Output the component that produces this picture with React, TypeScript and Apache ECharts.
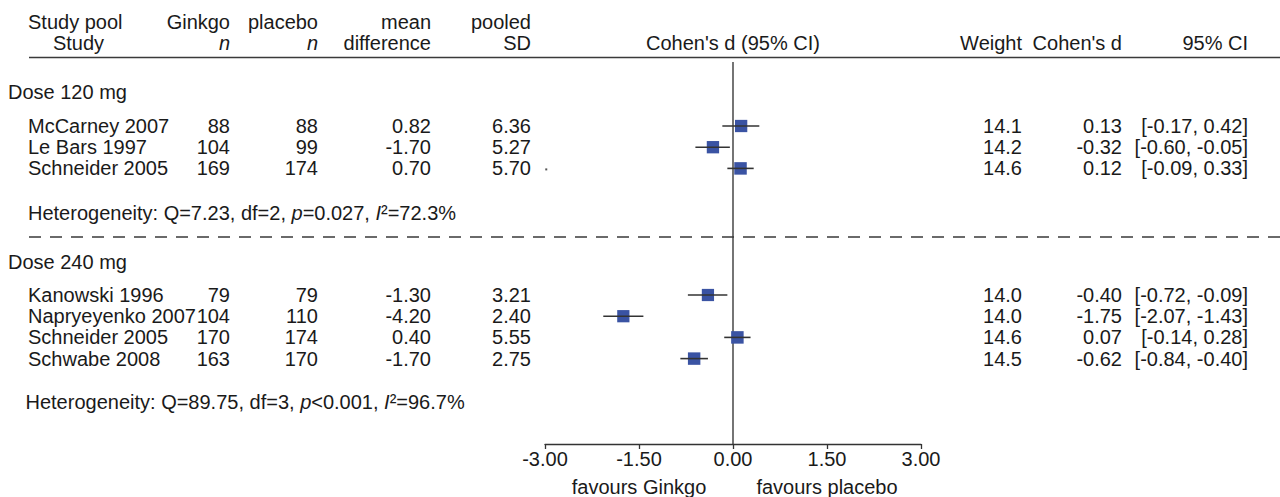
import React, { useEffect, useRef } from "react";
import * as echarts from "echarts";

// ---------------- data ----------------
const studies = ["McCarney 2007", "Le Bars 1997", "Schneider 2005", "Kanowski 1996", "Napryeyenko 2007", "Schneider 2005", "Schwabe 2008"];
const doseGroup = [120, 120, 120, 240, 240, 240, 240];
const ginkgoN = [88, 104, 169, 79, 104, 170, 163];
const placeboN = [88, 99, 174, 79, 110, 174, 170];
const meanDiff = [0.82, -1.7, 0.7, -1.3, -4.2, 0.4, -1.7];
const pooledSD = [6.36, 5.27, 5.7, 3.21, 2.4, 5.55, 2.75];
const weights = [14.1, 14.2, 14.6, 14.0, 14.0, 14.6, 14.5];
const cohenD = [0.13, -0.32, 0.12, -0.4, -1.75, 0.07, -0.62];
const ciLow = [-0.17, -0.6, -0.09, -0.72, -2.07, -0.14, -0.84];
const ciHigh = [0.42, -0.05, 0.33, -0.09, -1.43, 0.28, -0.4];

const groups = [120, 240];
const groupLabels = ["Dose 120 mg", "Dose 240 mg"];
const hetStats = [
  { Q: "7.23", df: "2", p: "=0.027", I2: "72.3%" },
  { Q: "89.75", df: "3", p: "<0.001", I2: "96.7%" },
];

const xTicks = [-3, -1.5, 0, 1.5, 3];
const favourLabels = ["favours Ginkgo", "favours placebo"];
const favourAt = [-1.5, 1.5];

// stray speck in the original figure (forest x value, study index)
const speck = { x: -2.98, study: 2 };

// ---------------- layout ----------------
const FONT = '"Liberation Sans", Arial, Helvetica, sans-serif';
const FS = 20;
const TXT = "#1a1a1a";
const LINE = "#3a3a3a";
const SQUARE = "#3a53a3";

const PLOT_H = 444; // axis line position (px units on the hidden y axis)

// vertical layout (px)
const L_H1 = 21.5;
const L_H2 = 43;
const L_RULE = 57.5;
const groupHeaderLine = [92, 262];
const groupFirstRow = [126, 295];
const ROW_STEP = 21.2;
const hetLine = [213, 401.5];
const hetIndent = [0, -2.5];
const L_DASH = 237;
const L_ZERO_TOP = 62;
const L_FAV = 487;

// column x (px) in table grid
const X_NAME = 28;
const X_SEC = 8;
const X_STUDY_C = 78.5;
const X_GN = 230;
const X_PN = 318;
const X_MD = 431;
const X_SD = 531;
const X_W = 1022;
const X_D = 1122;
const X_CI = 1248;
const X_FOREST_C = 733;
const X_RULE = 29;

type TItem = { x: number; y: number; text: string; align: string; italic?: boolean; rich?: boolean };

function buildRows(): number[] {
  const rows: number[] = [];
  groups.forEach((g, gi) => {
    let k = 0;
    doseGroup.forEach((d, i) => {
      if (d === g) {
        rows[i] = groupFirstRow[gi] + k * ROW_STEP;
        k++;
      }
    });
  });
  return rows;
}

export default function App() {
  const ref = useRef<HTMLDivElement>(null);

  useEffect(() => {
    document.body.style.margin = "0";
    if (!ref.current) return;
    const chart = echarts.init(ref.current, undefined, { renderer: "svg" });
    const rows = buildRows();

    const texts: TItem[] = [];
    // header
    texts.push({ x: X_NAME, y: L_H1, text: "Study pool", align: "left" });
    texts.push({ x: X_STUDY_C, y: L_H2, text: "Study", align: "center" });
    texts.push({ x: X_GN, y: L_H1, text: "Ginkgo", align: "right" });
    texts.push({ x: X_GN, y: L_H2, text: "n", align: "right", italic: true });
    texts.push({ x: X_PN, y: L_H1, text: "placebo", align: "right" });
    texts.push({ x: X_PN, y: L_H2, text: "n", align: "right", italic: true });
    texts.push({ x: X_MD, y: L_H1, text: "mean", align: "right" });
    texts.push({ x: X_MD, y: L_H2, text: "difference", align: "right" });
    texts.push({ x: X_SD, y: L_H1, text: "pooled", align: "right" });
    texts.push({ x: X_SD, y: L_H2, text: "SD", align: "right" });
    texts.push({ x: X_FOREST_C, y: L_H2, text: "Cohen's d (95% CI)", align: "center" });
    texts.push({ x: X_W, y: L_H2, text: "Weight", align: "right" });
    texts.push({ x: X_D, y: L_H2, text: "Cohen's d", align: "right" });
    texts.push({ x: X_CI, y: L_H2, text: "95% CI", align: "right" });

    groups.forEach((g, gi) => {
      texts.push({ x: X_SEC, y: groupHeaderLine[gi], text: groupLabels[gi], align: "left" });
      const h = hetStats[gi];
      texts.push({
        x: X_NAME + hetIndent[gi],
        y: hetLine[gi],
        text: `Heterogeneity: Q=${h.Q}, df=${h.df}, {i|p}${h.p}, {i|I}²=${h.I2}`,
        align: "left",
        rich: true,
      });
    });

    studies.forEach((s, i) => {
      const y = rows[i];
      texts.push({ x: X_NAME, y, text: s, align: "left" });
      texts.push({ x: X_GN, y, text: String(ginkgoN[i]), align: "right" });
      texts.push({ x: X_PN, y, text: String(placeboN[i]), align: "right" });
      texts.push({ x: X_MD, y, text: meanDiff[i].toFixed(2), align: "right" });
      texts.push({ x: X_SD, y, text: pooledSD[i].toFixed(2), align: "right" });
      texts.push({ x: X_W, y, text: weights[i].toFixed(1), align: "right" });
      texts.push({ x: X_D, y, text: cohenD[i].toFixed(2), align: "right" });
      texts.push({ x: X_CI, y, text: `[${ciLow[i].toFixed(2)}, ${ciHigh[i].toFixed(2)}]`, align: "right" });
    });

    const baseStyle = { fill: TXT, fontSize: FS, fontFamily: FONT, verticalAlign: "middle" };

    const hLines = [
      { y: L_RULE, dash: false, width: 1.6 },
      { y: L_DASH, dash: true, width: 1.3 },
    ];

    const maxW = Math.max(...weights);

    const option: any = {
      animation: false,
      backgroundColor: "#fff",
      grid: [
        { left: 545, width: 376, top: 0, height: PLOT_H },
        { left: 0, width: 1280, top: 0, height: PLOT_H },
      ],
      xAxis: [
        {
          type: "value",
          gridIndex: 0,
          min: -3,
          max: 3,
          interval: 1.5,
          axisLine: { show: true, onZero: false, lineStyle: { color: "#333", width: 1.3 } },
          axisTick: { show: true, length: 5, lineStyle: { color: "#333", width: 1.3 } },
          axisLabel: {
            color: TXT,
            fontSize: FS,
            fontFamily: FONT,
            margin: 5,
            formatter: (v: number) => (xTicks.includes(v) ? v.toFixed(2) : ""),
          },
          splitLine: { show: false },
        },
        { type: "value", gridIndex: 1, min: 0, max: 1280, show: false },
      ],
      yAxis: [
        { type: "value", gridIndex: 0, min: 0, max: PLOT_H, inverse: true, show: false },
        { type: "value", gridIndex: 1, min: 0, max: PLOT_H, inverse: true, show: false },
      ],
      series: [
        // horizontal rules
        {
          type: "custom",
          xAxisIndex: 1,
          yAxisIndex: 1,
          clip: false,
          data: hLines.map((l) => [X_RULE, l.y]),
          renderItem: (params: any, api: any) => {
            const l = hLines[params.dataIndex];
            const a = api.coord([X_RULE, l.y]);
            const b = api.coord([1280, l.y]);
            return {
              type: "line",
              shape: { x1: a[0], y1: a[1], x2: b[0], y2: b[1] },
              style: { stroke: LINE, lineWidth: l.width, lineDash: l.dash ? [12, 9] : null },
            };
          },
        },
        // zero line
        {
          type: "custom",
          xAxisIndex: 0,
          yAxisIndex: 0,
          clip: false,
          data: [[0, L_ZERO_TOP]],
          renderItem: (_p: any, api: any) => {
            const a = api.coord([0, L_ZERO_TOP]);
            const b = api.coord([0, PLOT_H]);
            return {
              type: "line",
              shape: { x1: a[0], y1: a[1], x2: b[0], y2: b[1] },
              style: { stroke: LINE, lineWidth: 1.4 },
            };
          },
        },
        // forest marks
        {
          type: "custom",
          xAxisIndex: 0,
          yAxisIndex: 0,
          clip: false,
          data: studies.map((_, i) => [cohenD[i], rows[i], ciLow[i], ciHigh[i], weights[i]]),
          renderItem: (_p: any, api: any) => {
            const y = api.value(1);
            const c = api.coord([api.value(0), y]);
            const lo = api.coord([api.value(2), y]);
            const hi = api.coord([api.value(3), y]);
            const s = 12.5 * Math.sqrt(api.value(4) / maxW);
            return {
              type: "group",
              children: [
                {
                  type: "rect",
                  shape: { x: c[0] - s / 2, y: c[1] - s / 2, width: s, height: s },
                  style: { fill: SQUARE },
                },
                {
                  type: "line",
                  shape: { x1: lo[0], y1: lo[1], x2: hi[0], y2: hi[1] },
                  style: { stroke: "#333", lineWidth: 1.6 },
                },
              ],
            };
          },
        },
        // speck
        {
          type: "custom",
          xAxisIndex: 0,
          yAxisIndex: 0,
          clip: false,
          data: [[speck.x, rows[speck.study]]],
          renderItem: (_p: any, api: any) => {
            const c = api.coord([api.value(0), api.value(1)]);
            return {
              type: "rect",
              shape: { x: c[0] - 1, y: c[1], width: 2, height: 2 },
              style: { fill: "#555" },
            };
          },
        },
        // favours labels
        {
          type: "custom",
          xAxisIndex: 0,
          yAxisIndex: 0,
          clip: false,
          data: favourAt.map((x) => [x, L_FAV]),
          renderItem: (p: any, api: any) => {
            const pt = api.coord([api.value(0), api.value(1)]);
            return {
              type: "text",
              x: pt[0],
              y: pt[1],
              style: { ...baseStyle, text: favourLabels[p.dataIndex], align: "center" },
            };
          },
        },
        // table texts
        {
          type: "custom",
          xAxisIndex: 1,
          yAxisIndex: 1,
          clip: false,
          data: texts.map((t) => [t.x, t.y]),
          renderItem: (p: any, api: any) => {
            const t = texts[p.dataIndex];
            const pt = api.coord([t.x, t.y]);
            const style: any = {
              ...baseStyle,
              text: t.text,
              align: t.align,
              fontStyle: t.italic ? "italic" : "normal",
            };
            if (t.rich) {
              style.rich = {
                i: { fontStyle: "italic", fontSize: FS, fontFamily: FONT, fill: TXT },
              };
            }
            return { type: "text", x: pt[0], y: pt[1], style };
          },
        },
      ],
    };

    chart.setOption(option);
    return () => chart.dispose();
  }, []);

  return <div ref={ref} style={{ width: 1280, height: 497 }} />;
}
